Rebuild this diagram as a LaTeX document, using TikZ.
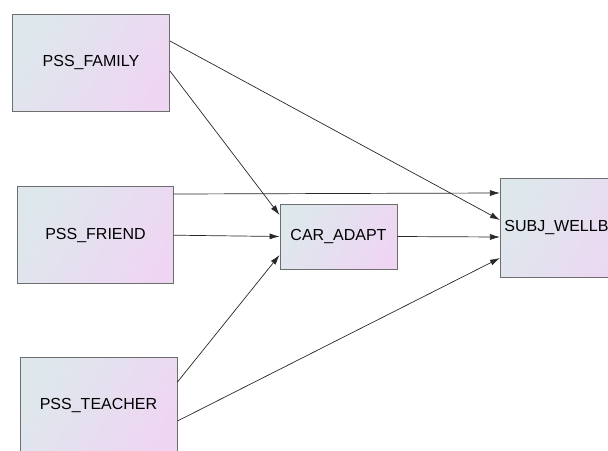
\documentclass[tikz,border=0pt]{standalone}
\usepackage{fontspec}
\setmainfont{Liberation Sans}
\usepackage{tikz}
\usetikzlibrary{positioning,arrows.meta}
\usepackage{xcolor}
\definecolor{boxleft}{RGB}{222,232,236}
\definecolor{boxright}{RGB}{238,214,243}
\definecolor{boxline}{RGB}{110,110,110}
\definecolor{pathgray}{RGB}{40,40,40}

\begin{document}
\begin{tikzpicture}[x=1pt, y=-1pt,
        varbox/.style={rectangle, draw=boxline, line width=0.9pt, shading=axis,
          left color=boxleft, right color=boxright, shading angle=60,
          inner sep=4pt, font=\fontsize{16}{19}\selectfont},
        pathline/.style={-{Latex[length=10pt,width=6pt]}, draw=pathgray, line width=0.7pt}
      ]
      \useasboundingbox (0,0) rectangle (608,450);
      \clip (0,0) rectangle (608,450);

      % Predictors
      \node[varbox, minimum width=157pt, minimum height=97pt] (fam) at (91,62.5) {PSS\_FAMILY};
      \node[varbox, minimum width=156pt, minimum height=97pt] (frd) at (95.5,235.2) {PSS\_FRIEND};
      \node[varbox, minimum width=157pt, minimum height=97pt] (tch) at (98.5,405.8) {PSS\_TEACHER};

      % Mediator and outcome
      \node[varbox, minimum width=117pt, minimum height=65pt] (car) at (338.5,236.5) {CAR\_ADAPT};
      \node[varbox, minimum width=151pt, minimum height=99pt] (swb) at (576,227.8) {SUBJ\_WELLBEING};

      % Paths to CAR_ADAPT
      \draw[pathline] ([yshift=-8.5pt]fam.east) -- ([yshift=21.5pt]car.west);
      \draw[pathline] (frd.east) -- (car.west);
      \draw[pathline] ([yshift=23.8pt]tch.east) -- ([yshift=-18.5pt]car.west);

      % Paths to SUBJ_WELLBEING
      \draw[pathline] ([yshift=21.5pt]fam.east) -- ([yshift=7.8pt]swb.west);
      \draw[pathline] ([yshift=41.2pt]frd.east) -- ([yshift=34.8pt]swb.west);
      \draw[pathline] (car.east) -- ([yshift=-9.2pt]swb.west);
      \draw[pathline] ([yshift=-15.2pt]tch.east) -- ([yshift=-30.2pt]swb.west);

    \end{tikzpicture}
\end{document}
